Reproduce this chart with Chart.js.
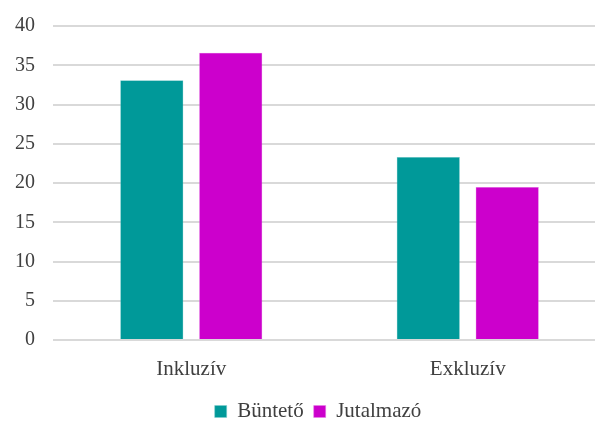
<!DOCTYPE html>
<html>
<head>
<meta charset="utf-8">
<script src="https://cdn.jsdelivr.net/npm/chart.js@4/dist/chart.umd.min.js"></script>
<style>
html,body{margin:0;padding:0;background:#fff;overflow:hidden;width:595px;height:421px;}
#wrap{position:absolute;left:0;top:-4px;width:612px;height:436px;}
</style>
</head>
<body>
<div id="wrap"><canvas id="c" width="612" height="436"></canvas></div>
<script>
const categories = ['Inkluzív', 'Exkluzív'];
const seriesNames = ['Büntető', 'Jutalmazó'];
const buntetoValues = [33.1, 23.3];
const jutalmazoValues = [36.6, 19.5];
const yTicks = [0, 5, 10, 15, 20, 25, 30, 35, 40];

const FONT = "'Liberation Serif', 'DejaVu Serif', serif";
const TEXT = '#404040';

const legendShift = {
  id: 'legendShift',
  afterLayout(chart) {
    const lg = chart.legend;
    if (!lg) return;
    const dx = 15;
    lg.left += dx; lg.right += dx;
  }
};

new Chart(document.getElementById('c'), {
  type: 'bar',
  data: {
    labels: categories,
    datasets: [
      { label: seriesNames[0], data: buntetoValues, backgroundColor: '#009999', borderColor: '#7fcccc', borderWidth: 0.5, categoryPercentage: 0.571, barPercentage: 0.8 },
      { label: seriesNames[1], data: jutalmazoValues, backgroundColor: '#cc00cc', borderColor: '#e57fe5', borderWidth: 0.5, categoryPercentage: 0.571, barPercentage: 0.8 }
    ]
  },
  plugins: [legendShift],
  options: {
    responsive: false,
    animation: false,
    devicePixelRatio: 1,
    layout: { padding: { left: 0, right: 6, top: 21, bottom: 0 } },
    plugins: {
      tooltip: { enabled: false },
      legend: {
        position: 'bottom',
        labels: {
          boxWidth: 12, boxHeight: 12, padding: 10,
          color: TEXT,
          font: { family: FONT, size: 21 }
        }
      }
    },
    scales: {
      x: {
        grid: { display: false, drawTicks: false },
        border: { display: false },
        ticks: { color: TEXT, font: { family: FONT, size: 21 }, padding: 17 },
        afterFit(scale) { scale.height = 51; }
      },
      y: {
        min: 0, max: 40,
        afterBuildTicks(scale) { scale.ticks = yTicks.map(v => ({ value: v })); },
        grid: { color: '#d9d9d9', lineWidth: 2, drawTicks: false },
        border: { display: false },
        ticks: { color: TEXT, font: { family: FONT, size: 20 }, padding: 18 },
        afterFit(scale) { scale.width = 53; }
      }
    }
  }
});
</script>
</body>
</html>
